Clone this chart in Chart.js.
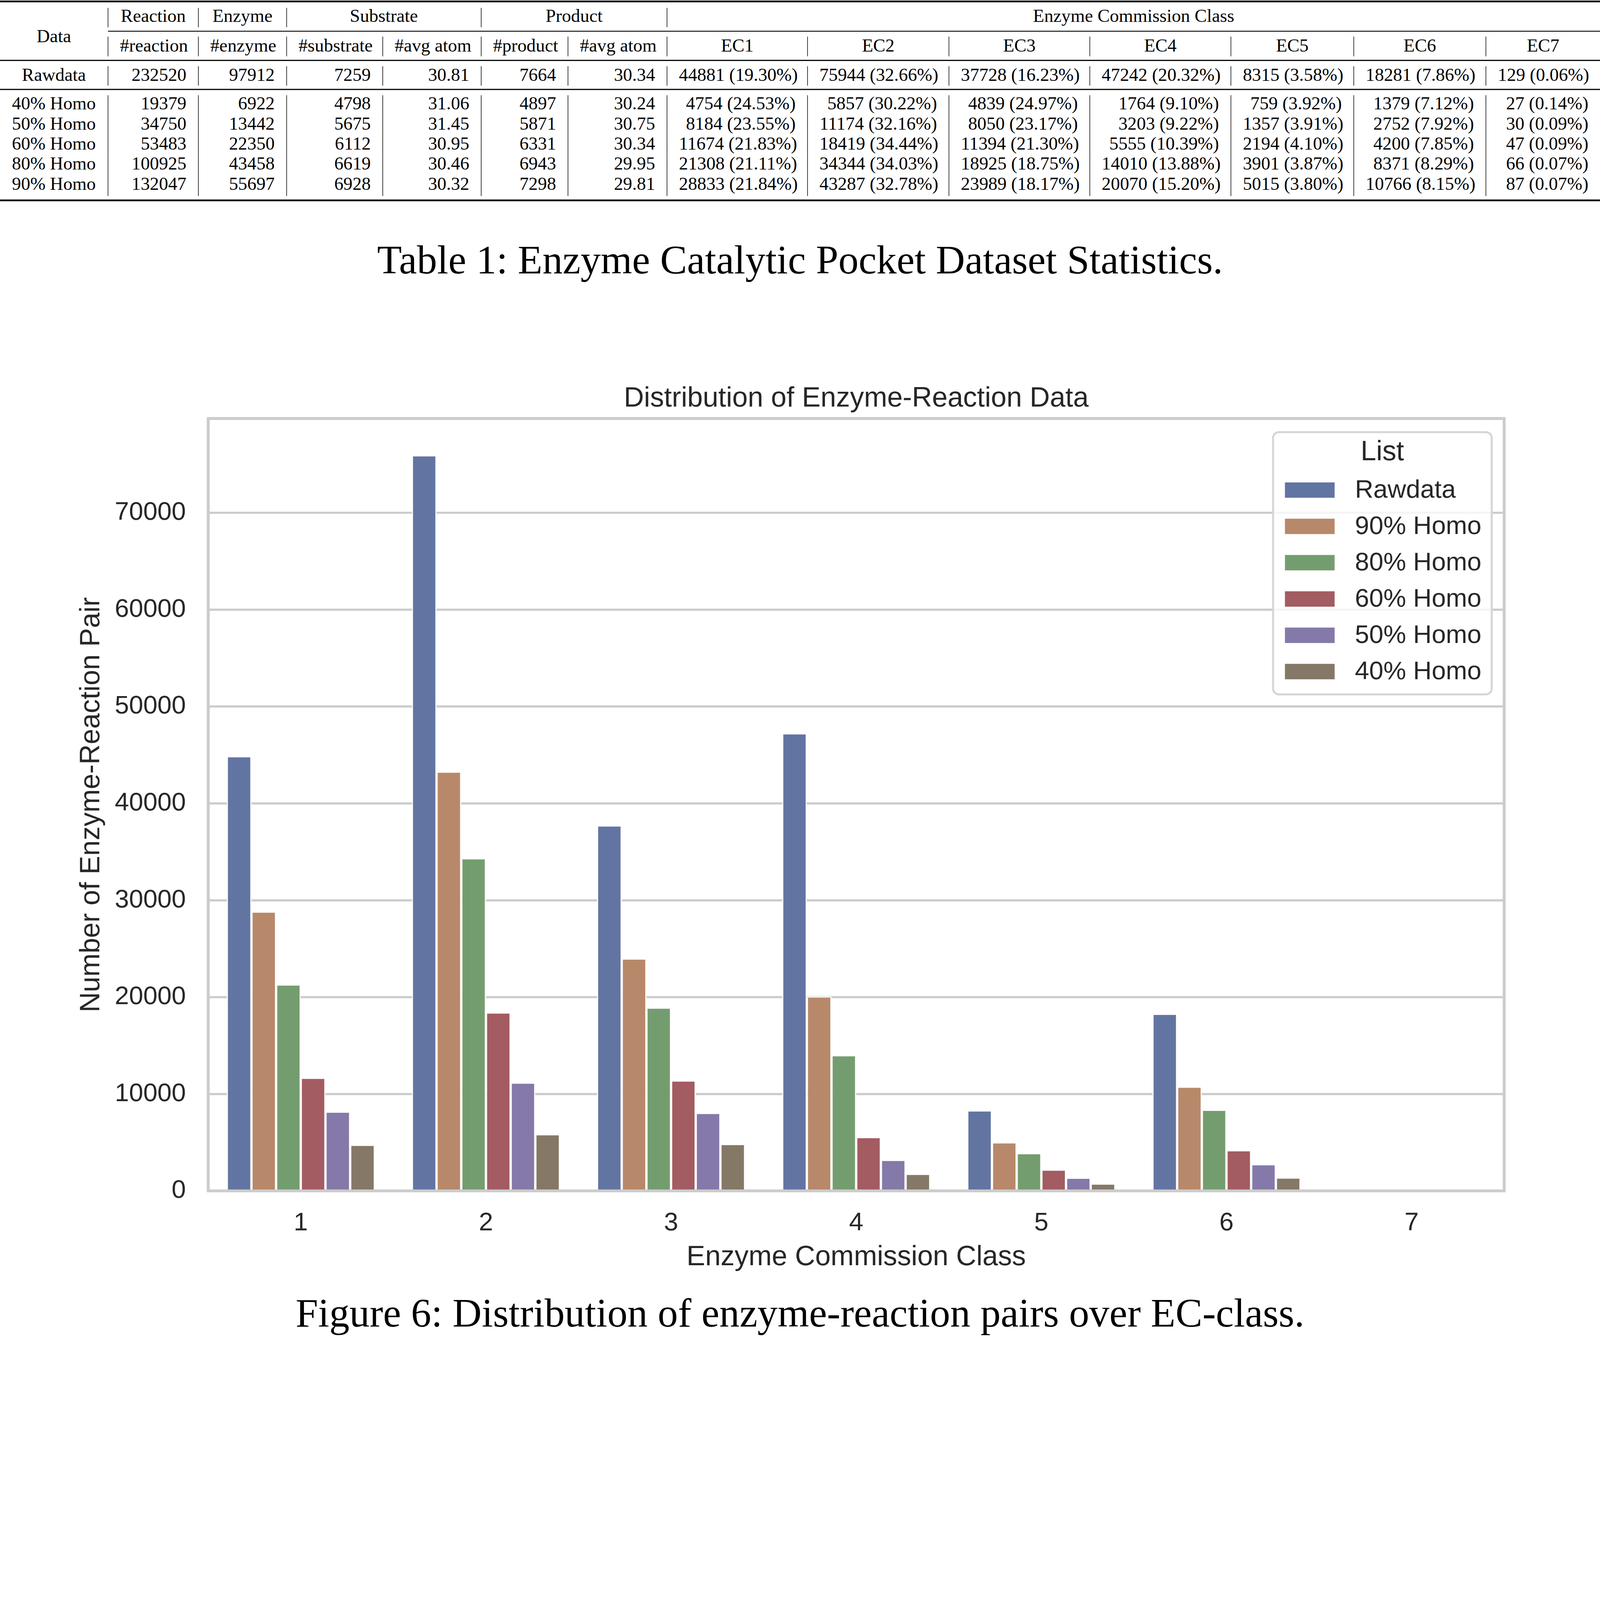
<!DOCTYPE html>
<html>
<head>
<meta charset="utf-8">
<script src="https://cdn.jsdelivr.net/npm/chart.js@4.4.1/dist/chart.umd.min.js"></script>
<style>
  html, body { margin: 0; padding: 0; background: #fff; overflow: hidden; }
  #page { position: absolute; left: 0; top: 0; width: 5510px; height: 4612px; transform-origin: 0 0; background: #fff; }
  #stats { position: absolute; left: 0; top: 0; width: 5510px; border-collapse: collapse; table-layout: fixed;
           font-family: 'Liberation Serif', serif; font-size: 63px; color: #000; }
  #stats td { padding: 0 40px; white-space: nowrap; vertical-align: middle; line-height: 1; text-align: right; }
  #stats td span { position: relative; }
  #stats td.c { text-align: center; }
  #stats td.v { border-left: 2px solid #000; }
  #stats tr.rule td { padding: 0; vertical-align: top; }
  .caption { position: absolute; left: 0; width: 5510px; text-align: center;
             font-family: 'Liberation Serif', serif; font-size: 139px; line-height: 139px; color: #000; }
  #chartBox { position: absolute; left: 0; top: 1250px; width: 5510px; height: 3170px; }
</style>
</head>
<body>
<div id="page">
  <table id="stats"></table>
  <div class="caption" style="top:826px">Table 1: Enzyme Catalytic Pocket Dataset Statistics.</div>
  <div id="chartBox"><canvas id="ecChart" width="5510" height="3170"></canvas></div>
  <div class="caption" style="top:4453px">Figure 6: Distribution of enzyme-reaction pairs over EC-class.</div>
</div>

<script>
const ecClasses = ['1', '2', '3', '4', '5', '6', '7'];

const rawdata = [44881, 75944, 37728, 47242, 8315, 18281, 129];
const homo90 = [28833, 43287, 23989, 20070, 5015, 10766, 87];
const homo80 = [21308, 34344, 18925, 14010, 3901, 8371, 66];
const homo60 = [11674, 18419, 11394, 5555, 2194, 4200, 47];
const homo50 = [8184, 11174, 8050, 3203, 1357, 2752, 30];
const homo40 = [4754, 5857, 4839, 1764, 759, 1379, 27];

const seriesNames = ['Rawdata', '90% Homo', '80% Homo', '60% Homo', '50% Homo', '40% Homo'];
const seriesValues = [rawdata, homo90, homo80, homo60, homo50, homo40];
const seriesColors = ['#6274a2', '#b8886a', '#749d6f', '#a35c61', '#8479a9', '#857866'];

const yTicks = [0, 10000, 20000, 30000, 40000, 50000, 60000, 70000];
const yMax = 79741;

// table rows (in table order)
const rowNames = ['Rawdata', '40% Homo', '50% Homo', '60% Homo', '80% Homo', '90% Homo'];
const reactions = [232520, 19379, 34750, 53483, 100925, 132047];
const enzymes = [97912, 6922, 13442, 22350, 43458, 55697];
const substrates = [7259, 4798, 5675, 6112, 6619, 6928];
const substrateAtoms = ['30.81', '31.06', '31.45', '30.95', '30.46', '30.32'];
const products = [7664, 4897, 5871, 6331, 6943, 7298];
const productAtoms = ['30.34', '30.24', '30.75', '30.34', '29.95', '29.81'];
const ecCounts = [rawdata, homo40, homo50, homo60, homo80, homo90];
const ecShares = [
  ['19.30', '32.66', '16.23', '20.32', '3.58', '7.86', '0.06'],
  ['24.53', '30.22', '24.97', '9.10', '3.92', '7.12', '0.14'],
  ['23.55', '32.16', '23.17', '9.22', '3.91', '7.92', '0.09'],
  ['21.83', '34.44', '21.30', '10.39', '4.10', '7.85', '0.09'],
  ['21.11', '34.03', '18.75', '13.88', '3.87', '8.29', '0.07'],
  ['21.84', '32.78', '18.17', '15.20', '3.80', '8.15', '0.07']
];

// fit the 5510 x 4612 page into whatever viewport we get
const page = document.getElementById('page');
const fit = Math.min(window.innerWidth / 5510, window.innerHeight / 4612);
page.style.transform = 'scale(' + fit + ')';

// ---- table ----
const colWidths = [372, 311, 304, 331, 339, 299, 341, 484, 487, 485, 486, 423, 455, 393];
const tbl = document.getElementById('stats');
const cg = document.createElement('colgroup');
colWidths.forEach(w => {
  const c = document.createElement('col');
  c.style.width = w + 'px';
  cg.appendChild(c);
});
tbl.appendChild(cg);

function ruleRow(height, offset, thick, fromCol) {
  const tr = tbl.insertRow();
  tr.className = 'rule';
  tr.style.height = height + 'px';
  if (fromCol > 0) {
    const td0 = tr.insertCell();
    td0.colSpan = fromCol;
  }
  const td = tr.insertCell();
  td.colSpan = 14 - fromCol;
  td.innerHTML = '<div style="margin-top:' + offset + 'px;height:' + thick + 'px;background:#000"></div>';
}

function row(height, cells, shift) {
  const tr = tbl.insertRow();
  tr.style.height = height + 'px';
  cells.forEach((c, i) => {
    const td = tr.insertCell();
    const top = c.top !== undefined ? c.top : -shift;
    td.innerHTML = '<span style="top:' + top + 'px">' + c.text + '</span>';
    if (c.span) td.colSpan = c.span;
    td.className = (c.center ? 'c ' : '') + (i > 0 ? 'v' : '');
  });
}

ruleRow(27, 2, 6, 0);
row(67, [
  { text: 'Data', center: true, top: 64 },
  { text: 'Reaction', center: true },
  { text: 'Enzyme', center: true },
  { text: 'Substrate', center: true, span: 2 },
  { text: 'Product', center: true, span: 2 },
  { text: 'Enzyme Commission Class', center: true, span: 7 }
], 6);
ruleRow(32, 12, 3, 1);
const subHeads = ['#reaction', '#enzyme', '#substrate', '#avg atom', '#product', '#avg atom',
  'EC1', 'EC2', 'EC3', 'EC4', 'EC5', 'EC6', 'EC7'];
row(68, [{ text: '', center: true }].concat(subHeads.map(t => ({ text: t, center: true }))), 3);

rowNames.forEach((name, r) => {
  if (r === 0) ruleRow(34, 12, 4, 0);
  if (r === 1) ruleRow(33, 11, 4, 0);
  const cells = [
    { text: name, center: true },
    { text: reactions[r] }, { text: enzymes[r] }, { text: substrates[r] },
    { text: substrateAtoms[r] }, { text: products[r] }, { text: productAtoms[r] }
  ];
  ecCounts[r].forEach((v, k) => cells.push({ text: v + ' (' + ecShares[r][k] + '%)' }));
  row(r === 0 ? 67 : 69.4, cells, r === 0 ? 3 : 7);
});
ruleRow(22, 12, 6, 0);

// ---- chart ----
const textColor = '#262626';
const sans = 'Liberation Sans';

const framePlugin = {
  id: 'frameAndLegend',
  afterDatasetsDraw(chart) {
    const { ctx, chartArea: a } = chart;
    ctx.save();
    ctx.strokeStyle = '#cccccc';
    ctx.lineWidth = 10;
    ctx.strokeRect(a.left, a.top, a.right - a.left, a.bottom - a.top);

    // legend box, top right inside the axes
    const w = 753, h = 903;
    const x0 = a.right - 43 - w, y0 = a.top + 47;
    ctx.beginPath();
    ctx.roundRect(x0, y0, w, h, 20);
    ctx.fillStyle = 'rgba(255,255,255,0.8)';
    ctx.fill();
    ctx.strokeStyle = '#d6d6d6';
    ctx.lineWidth = 7;
    ctx.stroke();

    ctx.fillStyle = textColor;
    ctx.textBaseline = 'middle';
    ctx.textAlign = 'center';
    ctx.font = '96px "' + sans + '"';
    ctx.fillText('List', x0 + w / 2, y0 + 70);

    ctx.textAlign = 'left';
    ctx.font = '88px "' + sans + '"';
    chart.data.datasets.forEach((ds, i) => {
      const cy = y0 + 199 + 125 * i;
      ctx.fillStyle = ds.backgroundColor;
      ctx.fillRect(x0 + 41, cy - 26, 171, 53);
      ctx.fillStyle = textColor;
      ctx.fillText(ds.label, x0 + 282, cy + 3);
    });
    ctx.restore();
  }
};

const ctx = document.getElementById('ecChart').getContext('2d');
const ecChart = new Chart(ctx, {
  type: 'bar',
  data: {
    labels: ecClasses,
    datasets: seriesNames.map((name, i) => ({
      label: name,
      data: seriesValues[i],
      backgroundColor: seriesColors[i],
      borderColor: '#ffffff',
      borderWidth: 4,
      categoryPercentage: 0.8,
      barPercentage: 1.0
    }))
  },
  options: {
    responsive: false,
    animation: false,
    devicePixelRatio: 1,
    layout: { padding: { left: 0, right: 330, top: 0, bottom: 0 } },
    plugins: {
      legend: { display: false },
      tooltip: { enabled: false },
      title: {
        display: true,
        fullSize: false,
        text: 'Distribution of Enzyme-Reaction Data',
        color: textColor,
        font: { family: sans, size: 96, weight: 'normal' },
        padding: { top: 66, bottom: 10 }
      }
    },
    scales: {
      x: {
        grid: { display: false, drawTicks: false },
        border: { display: false },
        ticks: { color: textColor, font: { family: sans, size: 88 }, padding: 59 },
        title: {
          display: true,
          text: 'Enzyme Commission Class',
          color: textColor,
          font: { family: sans, size: 96 },
          padding: { top: 0, bottom: 32 }
        },
        afterFit(scale) { scale.height = 319; }
      },
      y: {
        min: 0,
        max: yMax,
        grid: { color: '#cccccc', lineWidth: 7.5, drawTicks: false },
        border: { display: false },
        afterBuildTicks(scale) { scale.ticks = yTicks.map(v => ({ value: v })); },
        ticks: {
          color: textColor,
          font: { family: sans, size: 88 },
          padding: 77,
          callback: v => String(v)
        },
        title: {
          display: true,
          text: 'Number of Enzyme-Reaction Pair',
          color: textColor,
          font: { family: sans, size: 96 },
          padding: { top: 258, bottom: 0 }
        },
        afterFit(scale) { scale.width = 717; }
      }
    }
  },
  plugins: [framePlugin]
});
</script>
</body>
</html>
